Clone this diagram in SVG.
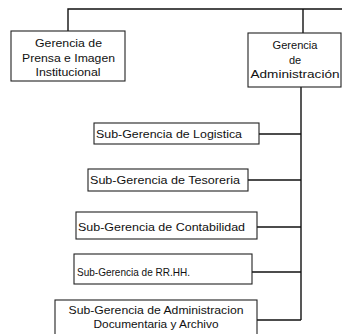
<svg xmlns="http://www.w3.org/2000/svg" width="342" height="334" viewBox="0 0 342 334">
<style>
.box{fill:#fff;stroke:#222;stroke-width:1.1}
.t{font-family:"Liberation Sans",Arial,sans-serif;font-size:11px;fill:#111}
.c{text-anchor:middle}
.ln{fill:none;stroke:#111;stroke-width:1.4}
</style>
<rect width="342" height="334" fill="#fff"/>
<g id="connectors">
<path class="ln" d="M68,31 V9 H342"/>
<path class="ln" d="M303,9 V33"/>
<path class="ln" d="M301,87 V320"/>
<path class="ln" d="M259,134 H301"/>
<path class="ln" d="M248,180 H301"/>
<path class="ln" d="M257,227 H301"/>
<path class="ln" d="M252,272 H301"/>
<path class="ln" d="M257,320 H301"/>
</g>
<g id="prensa">
<rect class="box" x="11" y="31" width="114" height="50"/>
<text class="t c" x="68.5" y="47" textLength="67" lengthAdjust="spacingAndGlyphs">Gerencia de</text>
<text class="t c" x="68.5" y="62" textLength="93" lengthAdjust="spacingAndGlyphs">Prensa e Imagen</text>
<text class="t c" x="68" y="76" textLength="65" lengthAdjust="spacingAndGlyphs">Institucional</text>
</g>
<g id="administracion">
<rect class="box" x="248" y="33" width="93" height="54"/>
<text class="t c" x="295" y="49" textLength="45" lengthAdjust="spacingAndGlyphs">Gerencia</text>
<text class="t c" x="295" y="64">de</text>
<text class="t c" x="295" y="78" textLength="89" lengthAdjust="spacingAndGlyphs">Administración</text>
</g>
<g id="logistica">
<rect class="box" x="94" y="123" width="165" height="21"/>
<text class="t" x="96" y="138" textLength="146" lengthAdjust="spacingAndGlyphs">Sub-Gerencia de Logistica</text>
</g>
<g id="tesoreria">
<rect class="box" x="88" y="169" width="160" height="22"/>
<text class="t" x="90" y="184" textLength="150" lengthAdjust="spacingAndGlyphs">Sub-Gerencia de Tesoreria</text>
</g>
<g id="contabilidad">
<rect class="box" x="76" y="212" width="181" height="27"/>
<text class="t" x="78" y="231" textLength="167" lengthAdjust="spacingAndGlyphs">Sub-Gerencia de Contabilidad</text>
</g>
<g id="rrhh">
<rect class="box" x="74" y="254" width="178" height="30"/>
<text class="t" x="77" y="276" textLength="113" lengthAdjust="spacingAndGlyphs">Sub-Gerencia de RR.HH.</text>
</g>
<g id="archivo">
<rect class="box" x="55" y="300" width="202" height="40"/>
<text class="t c" x="156" y="314" textLength="175" lengthAdjust="spacingAndGlyphs">Sub-Gerencia de Administracion</text>
<text class="t c" x="156" y="328" textLength="125" lengthAdjust="spacingAndGlyphs">Documentaria y Archivo</text>
</g>
</svg>
